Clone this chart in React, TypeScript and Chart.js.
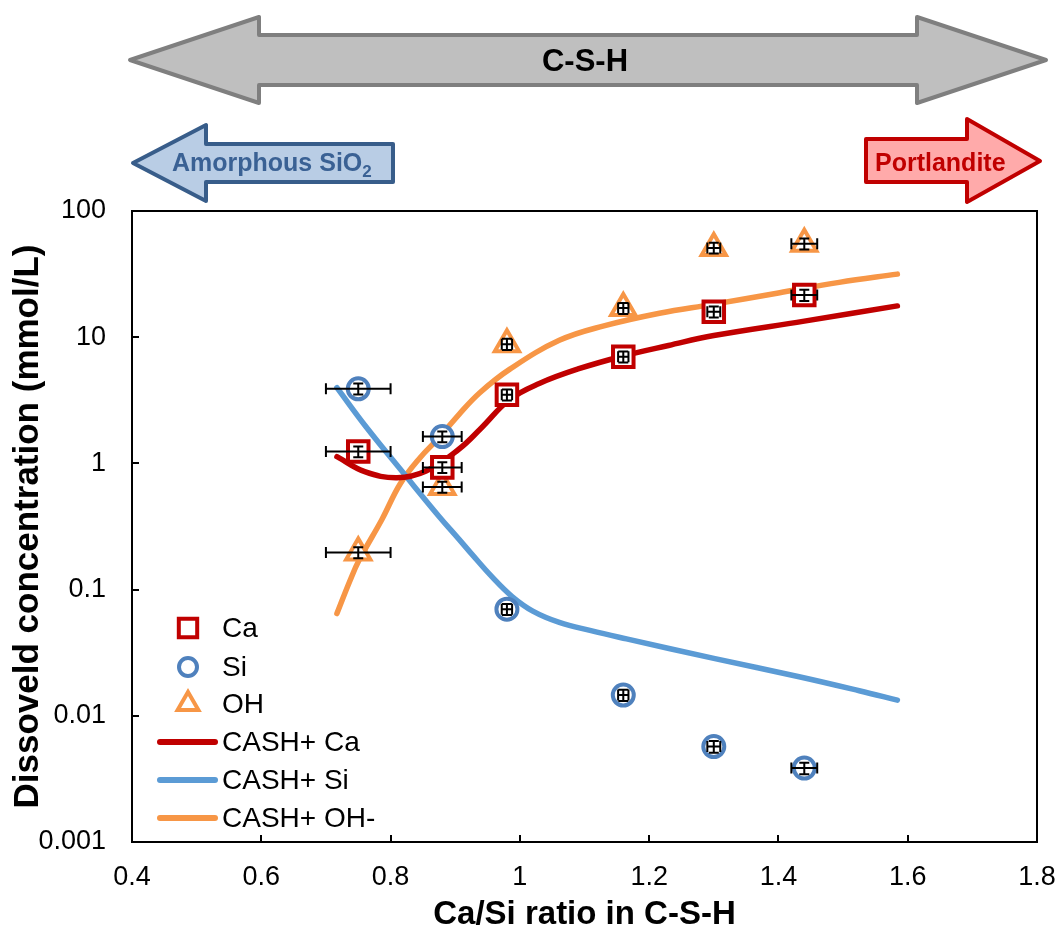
import React, { useEffect, useRef } from "react";
import { Chart, registerables } from "chart.js";

Chart.register(...registerables);

const FONT = '"Liberation Sans", Arial, sans-serif';

// Measured Ca/Si ratios of the C-S-H samples and their uncertainty
const caSiRatio = [0.75, 0.88, 0.98, 1.16, 1.3, 1.44];
const ratioErr = [0.05, 0.03, 0.008, 0.008, 0.01, 0.02];

// Measured dissolved concentrations (mmol/L)
const caMeasured = [1.24, 0.93, 3.5, 7.0, 15.9, 21.6];
const caErr = [0.12, 0.09, 0.35, 0.7, 1.6, 2.2];
const siMeasured = [3.9, 1.63, 0.07, 0.0146, 0.0057, 0.00385];
const siErr = [0.39, 0.16, 0.007, 0.0015, 0.0006, 0.0004];
const ohMeasured = [0.197, 0.65, 8.8, 17, 51, 55];
const ohErr = [0.02, 0.065, 0.9, 1.7, 5, 5.5];

// CASH+ model curves
const modelCaX = [0.717, 0.76, 0.81, 0.855, 0.906, 0.94, 0.984, 1.03, 1.09, 1.16, 1.23, 1.3, 1.44, 1.584];
const modelCaY = [1.13, 0.86, 0.77, 0.87, 1.3, 1.9, 3.2, 4.3, 5.6, 7.1, 8.6, 10.3, 13.4, 17.7];
const modelSiX = [0.717, 0.762, 0.824, 0.875, 0.906, 0.926, 0.957, 0.988, 1.02, 1.061, 1.11, 1.165, 1.3, 1.432, 1.525, 1.584];
const modelSiY = [3.98, 1.95, 0.79, 0.38, 0.25, 0.19, 0.126, 0.0881, 0.0676, 0.055, 0.0473, 0.0407, 0.0285, 0.0204, 0.0158, 0.0133];
const modelOhX = [0.717, 0.737, 0.751, 0.787, 0.815, 0.845, 0.876, 0.906, 0.938, 0.984, 1.061, 1.13, 1.216, 1.298, 1.4, 1.494, 1.584];
const modelOhY = [0.0646, 0.117, 0.17, 0.363, 0.69, 1.1, 1.62, 2.45, 3.63, 5.56, 9.44, 12.3, 15.5, 18.2, 22.4, 27.2, 31.6];

// Axis ticks
const xTicks = [0.4, 0.6, 0.8, 1, 1.2, 1.4, 1.6, 1.8];
const xTickLabels = ["0.4", "0.6", "0.8", "1", "1.2", "1.4", "1.6", "1.8"];
const yTicks = [0.001, 0.01, 0.1, 1, 10, 100];
const yTickLabels = ["0.001", "0.01", "0.1", "1", "10", "100"];

const toPoints = (xs: number[], ys: number[]) => xs.map((x, i) => ({ x, y: ys[i] }));

type Marker = "rect" | "circle" | "triangle";

function markerPath(ctx: CanvasRenderingContext2D, style: Marker, x: number, y: number, r: number) {
  ctx.beginPath();
  if (style === "rect") {
    const s = r * Math.SQRT1_2;
    ctx.rect(x - s, y - s, 2 * s, 2 * s);
  } else if (style === "circle") {
    ctx.arc(x, y, r, 0, Math.PI * 2);
  } else {
    let a = 0;
    ctx.moveTo(x + Math.sin(a) * r, y - Math.cos(a) * r);
    a += (Math.PI * 2) / 3;
    ctx.lineTo(x + Math.sin(a) * r, y - Math.cos(a) * r);
    a += (Math.PI * 2) / 3;
    ctx.lineTo(x + Math.sin(a) * r, y - Math.cos(a) * r);
    ctx.closePath();
  }
}

// Error bars (x and y) for the measured series, drawn over the markers
const errorBarPlugin = {
  id: "errorBars",
  afterDatasetsDraw(chart: any) {
    const { ctx } = chart;
    const xs = chart.scales.x;
    const ys = chart.scales.y;
    ctx.save();
    ctx.strokeStyle = "#000";
    ctx.lineWidth = 2;
    chart.data.datasets.forEach((ds: any) => {
      if (!ds.errX) return;
      ds.data.forEach((p: any, i: number) => {
        const px = xs.getPixelForValue(p.x);
        const py = ys.getPixelForValue(p.y);
        const ex = ds.errX[i];
        const ey = ds.errY[i];
        const x0 = xs.getPixelForValue(p.x - ex);
        const x1 = xs.getPixelForValue(p.x + ex);
        const y0 = ys.getPixelForValue(p.y - ey);
        const y1 = ys.getPixelForValue(p.y + ey);
        ctx.beginPath();
        ctx.moveTo(x0, py);
        ctx.lineTo(x1, py);
        ctx.moveTo(x0, py - 5.5);
        ctx.lineTo(x0, py + 5.5);
        ctx.moveTo(x1, py - 5.5);
        ctx.lineTo(x1, py + 5.5);
        ctx.moveTo(px, y0);
        ctx.lineTo(px, y1);
        ctx.moveTo(px - 5, y0);
        ctx.lineTo(px + 5, y0);
        ctx.moveTo(px - 5, y1);
        ctx.lineTo(px + 5, y1);
        ctx.stroke();
      });
    });
    ctx.restore();
  },
};

// Plot frame with inward tick marks
const framePlugin = {
  id: "frame",
  afterDraw(chart: any) {
    const { ctx, chartArea } = chart;
    const { left, right, top, bottom } = chartArea;
    const xs = chart.scales.x;
    const ys = chart.scales.y;
    ctx.save();
    ctx.strokeStyle = "#000";
    ctx.lineWidth = 2;
    ctx.strokeRect(left, top, right - left, bottom - top);
    ctx.beginPath();
    xTicks.slice(1, -1).forEach((v) => {
      const px = Math.round(xs.getPixelForValue(v));
      ctx.moveTo(px, bottom);
      ctx.lineTo(px, bottom - 7);
    });
    yTicks.slice(1, -1).forEach((v) => {
      const py = Math.round(ys.getPixelForValue(v));
      ctx.moveTo(left, py);
      ctx.lineTo(left + 7, py);
    });
    ctx.stroke();
    ctx.restore();
  },
};

// Legend in the lower-left corner of the plot
const legendRows = [628, 667, 704, 742, 780, 818];
const legendPlugin = {
  id: "insetLegend",
  afterDraw(chart: any) {
    const { ctx } = chart;
    ctx.save();
    ctx.font = `28px ${FONT}`;
    ctx.textBaseline = "middle";
    ctx.textAlign = "left";
    chart.data.datasets.forEach((ds: any, i: number) => {
      const y = legendRows[i];
      if (ds.showLine) {
        ctx.strokeStyle = ds.borderColor;
        ctx.lineWidth = 6;
        ctx.lineCap = "round";
        ctx.beginPath();
        ctx.moveTo(160, y);
        ctx.lineTo(215, y);
        ctx.stroke();
      } else {
        markerPath(ctx, ds.pointStyle, 188, y, ds.legendRadius);
        ctx.fillStyle = "#fff";
        ctx.fill();
        ctx.lineWidth = 4;
        ctx.strokeStyle = ds.pointBorderColor;
        ctx.stroke();
      }
      ctx.fillStyle = "#000";
      ctx.fillText(ds.label, 222, y + 1);
    });
    ctx.restore();
  },
};

function arrowShape(ctx: CanvasRenderingContext2D, pts: number[][], fill: string, stroke: string) {
  ctx.beginPath();
  ctx.moveTo(pts[0][0], pts[0][1]);
  for (let i = 1; i < pts.length; i++) ctx.lineTo(pts[i][0], pts[i][1]);
  ctx.closePath();
  ctx.fillStyle = fill;
  ctx.fill();
  ctx.lineWidth = 4;
  ctx.lineJoin = "round";
  ctx.strokeStyle = stroke;
  ctx.stroke();
}

// Phase arrows above the plot
const phaseArrowsPlugin = {
  id: "phaseArrows",
  afterDraw(chart: any) {
    const { ctx } = chart;
    ctx.save();
    // C-S-H double arrow
    arrowShape(
      ctx,
      [
        [130, 60], [259, 17], [259, 35], [917, 35], [917, 17], [1046, 60],
        [917, 103], [917, 85], [259, 85], [259, 103],
      ],
      "#BFBFBF",
      "#7F7F7F"
    );
    ctx.fillStyle = "#000";
    ctx.font = `bold 31px ${FONT}`;
    ctx.textAlign = "center";
    ctx.textBaseline = "middle";
    ctx.fillText("C-S-H", 585, 62);

    // Amorphous SiO2 arrow (pointing left)
    arrowShape(
      ctx,
      [[133, 163], [206, 125], [206, 144], [393, 144], [393, 182], [206, 182], [206, 201]],
      "#B9CDE5",
      "#385D8A"
    );
    ctx.fillStyle = "#3A6194";
    ctx.textAlign = "left";
    ctx.font = `bold 25px ${FONT}`;
    const main = "Amorphous SiO";
    const w = ctx.measureText(main).width;
    ctx.fillText(main, 172, 164);
    ctx.font = `bold 17px ${FONT}`;
    ctx.fillText("2", 172 + w, 172);

    // Portlandite arrow (pointing right)
    arrowShape(
      ctx,
      [[866, 139], [967, 139], [967, 119], [1040, 161], [967, 202], [967, 182], [866, 182]],
      "#FFAAAA",
      "#C00000"
    );
    ctx.fillStyle = "#C00000";
    ctx.font = `bold 25px ${FONT}`;
    ctx.textAlign = "left";
    ctx.fillText("Portlandite", 875, 164);
    ctx.restore();
  },
};

export default function App() {
  const canvasRef = useRef<HTMLCanvasElement>(null);

  useEffect(() => {
    if (!canvasRef.current) return;
    const lineStyle = {
      showLine: true,
      borderWidth: 5.5,
      borderCapStyle: "round",
      borderJoinStyle: "round",
      tension: 0.4,
      pointRadius: 0,
    };
    const chart = new Chart(canvasRef.current, {
      type: "scatter",
      data: {
        datasets: [
          {
            label: "Ca",
            data: toPoints(caSiRatio, caMeasured),
            errX: ratioErr,
            errY: caErr,
            pointStyle: "rect",
            pointRadius: 14.5,
            legendRadius: 13,
            pointBorderWidth: 4,
            pointBorderColor: "#C00000",
            pointBackgroundColor: "#FFFFFF",
            showLine: false,
          },
          {
            label: "Si",
            data: toPoints(caSiRatio, siMeasured),
            errX: ratioErr,
            errY: siErr,
            pointStyle: "circle",
            pointRadius: 10.5,
            legendRadius: 9,
            pointBorderWidth: 4,
            pointBorderColor: "#4F81BD",
            pointBackgroundColor: "#FFFFFF",
            showLine: false,
          },
          {
            label: "OH",
            data: toPoints(caSiRatio, ohMeasured),
            errX: ratioErr,
            errY: ohErr,
            pointStyle: "triangle",
            pointRadius: 14,
            legendRadius: 12,
            pointBorderWidth: 4,
            pointBorderColor: "#F79646",
            pointBackgroundColor: "#FFFFFF",
            showLine: false,
          },
          {
            label: "CASH+ Ca",
            data: toPoints(modelCaX, modelCaY),
            borderColor: "#C00000",
            ...lineStyle,
          },
          {
            label: "CASH+ Si",
            data: toPoints(modelSiX, modelSiY),
            borderColor: "#5B9BD5",
            ...lineStyle,
          },
          {
            label: "CASH+ OH-",
            data: toPoints(modelOhX, modelOhY),
            borderColor: "#F79646",
            ...lineStyle,
          },
        ] as any,
      },
      options: {
        responsive: false,
        animation: false,
        devicePixelRatio: 1,
        layout: { padding: { top: 211, right: 22, left: 0, bottom: 0 } },
        plugins: {
          legend: { display: false },
          tooltip: { enabled: false },
        },
        scales: {
          x: {
            type: "linear",
            min: 0.4,
            max: 1.8,
            afterFit: (s: any) => {
              s.height = 88;
              s.paddingLeft = 0;
              s.paddingRight = 0;
            },
            afterBuildTicks: (s: any) => {
              s.ticks = xTicks.map((v) => ({ value: v }));
            },
            grid: { display: false, drawTicks: false },
            border: { display: false },
            ticks: {
              color: "#000",
              font: { family: FONT, size: 27 },
              padding: 19,
              maxRotation: 0,
              autoSkip: false,
              callback: (v: any) => xTickLabels[xTicks.indexOf(Number(v))] ?? "",
            },
            title: {
              display: true,
              text: "Ca/Si ratio in C-S-H",
              color: "#000",
              font: { family: FONT, size: 33, weight: "bold" },
              padding: { top: 0, bottom: -5 },
            },
          },
          y: {
            type: "logarithmic",
            min: 0.001,
            max: 100,
            afterFit: (s: any) => {
              s.width = 132;
              s.paddingTop = 0;
              s.paddingBottom = 0;
            },
            afterBuildTicks: (s: any) => {
              s.ticks = yTicks.map((v) => ({ value: v }));
            },
            grid: { display: false, drawTicks: false },
            border: { display: false },
            ticks: {
              color: "#000",
              font: { family: FONT, size: 27 },
              padding: 26,
              autoSkip: false,
              callback: (v: any) => yTickLabels[yTicks.indexOf(Number(v))] ?? "",
            },
            title: {
              display: true,
              text: "Dissoveld concentration (mmol/L)",
              color: "#000",
              font: { family: FONT, size: 35, weight: "bold" },
              padding: { top: 7, bottom: 0 },
            },
          },
        },
      } as any,
      plugins: [errorBarPlugin, framePlugin, legendPlugin, phaseArrowsPlugin],
    });
    return () => chart.destroy();
  }, []);

  return (
    <div style={{ position: "absolute", left: 0, top: 0, width: 1059, height: 930, background: "#fff" }}>
      <canvas ref={canvasRef} width={1059} height={930} style={{ display: "block" }} />
    </div>
  );
}
